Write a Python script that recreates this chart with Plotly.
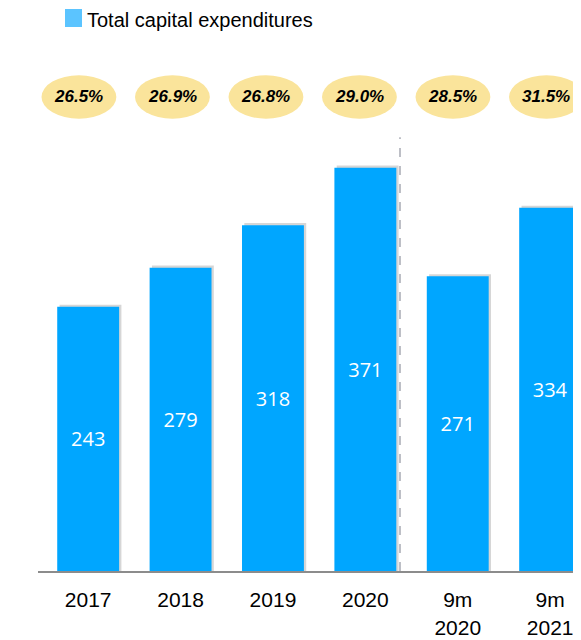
import plotly.graph_objects as go

periods = ["2017", "2018", "2019", "2020", "9m<br>2020", "9m<br>2021"]
capex = [243, 279, 318, 371, 271, 334]
shares = ["26.5%", "26.9%", "26.8%", "29.0%", "28.5%", "31.5%"]

bar_color = "#00A6FF"
idx = list(range(len(periods)))

fig = go.Figure()

# soft shadow behind the bars
fig.add_trace(go.Bar(
    x=idx, y=[v + 2 for v in capex], width=0.67, offset=-0.31,
    marker=dict(color="rgba(0,0,0,0.16)", line=dict(width=0)),
    hoverinfo="skip", showlegend=False,
))

fig.add_trace(go.Bar(
    x=idx, y=capex, width=0.67, offset=-0.335,
    marker=dict(color=bar_color, line=dict(width=0)),
    text=[str(v) for v in capex], textposition="inside", insidetextanchor="middle",
    textfont=dict(family="Open Sans", size=20, color="white"),
    name="Total capital expenditures", showlegend=False,
))

# yellow ellipses with share labels (spaced a touch wider than the bars)
for i, s in enumerate(shares):
    cx = i * 1.012 - 0.1
    fig.add_shape(type="circle", xref="x", yref="y",
                  x0=cx - 0.405, x1=cx + 0.405, y0=416, y1=456,
                  fillcolor="#FAE49B", line=dict(width=0), layer="below")
    fig.add_annotation(x=cx, y=436, xref="x", yref="y", text="<b><i>" + s + "</i></b>",
                       showarrow=False,
                       font=dict(family="Liberation Sans", size=17, color="black"))

# dashed divider between full years and 9 months
fig.add_shape(type="line", xref="x", yref="y", x0=3.375, x1=3.375, y0=0, y1=399,
              line=dict(color="#A8ABB4", width=1.5, dash="dash"))

# legend drawn by hand
fig.add_shape(type="rect", xref="paper", yref="paper",
              x0=(65 - 38) / 543, x1=(82 - 38) / 543,
              y0=(571 - 27) / 511, y1=(571 - 9) / 511,
              fillcolor="#5BC4FF", line=dict(width=0))
fig.add_annotation(xref="paper", yref="paper", x=(85 - 38) / 543, y=(571 - 19.5) / 511,
                   xanchor="left", yanchor="middle", showarrow=False,
                   text="Total capital expenditures",
                   font=dict(family="Liberation Sans", size=20, color="black"))

# page body adds 8px margin, so the figure is shrunk and margins shifted
fig.update_layout(
    width=573, height=632,
    margin=dict(l=30, r=0, t=52, b=69),
    paper_bgcolor="white", plot_bgcolor="white",
    barmode="overlay", showlegend=False,
    xaxis=dict(range=[-0.543, 5.334], tickmode="array", tickvals=idx, ticktext=periods,
               showgrid=False, zeroline=False, showline=True, linecolor="#8C8C8C", linewidth=2,
               ticks="", ticklabelstandoff=9, automargin=False,
               tickfont=dict(family="Liberation Sans", size=21, color="black")),
    yaxis=dict(range=[0, 470], visible=False, showgrid=False, zeroline=False, automargin=False),
)

fig.write_html("out.html")
